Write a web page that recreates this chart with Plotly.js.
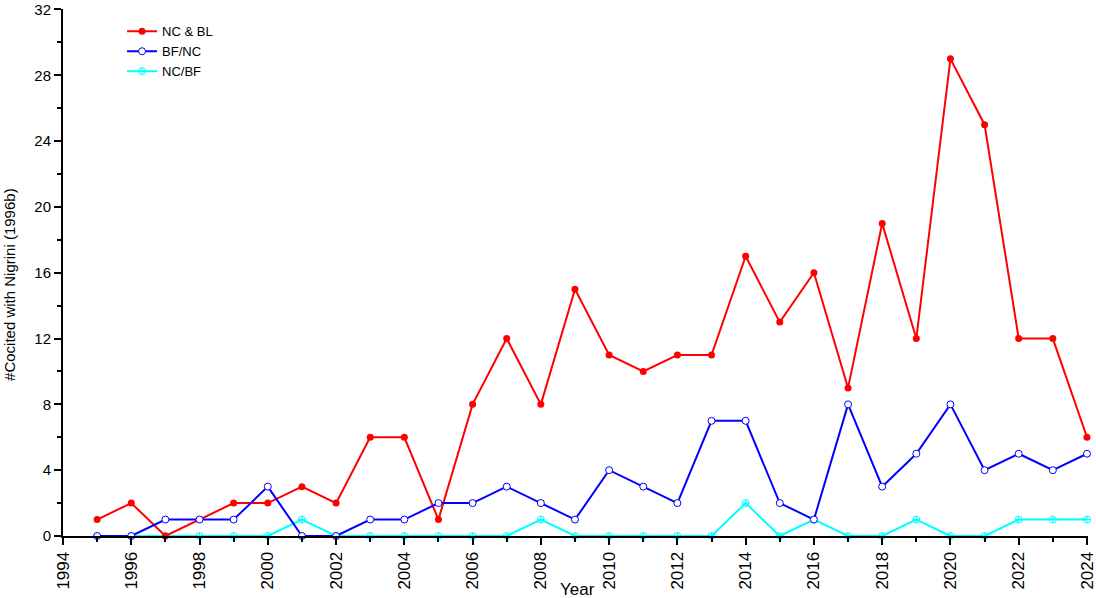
<!DOCTYPE html>
<html>
<head>
<meta charset="utf-8">
<script src="https://cdn.plot.ly/plotly-3.0.1.min.js"></script>
<style>html,body{margin:0;padding:0;background:#fff;}#chart{width:1096px;height:598px;}</style>
</head>
<body>
<div id="chart"></div>
<script>
const years = [1995,1996,1997,1998,1999,2000,2001,2002,2003,2004,2005,2006,2007,2008,2009,2010,2011,2012,2013,2014,2015,2016,2017,2018,2019,2020,2021,2022,2023,2024];
const ncBL = [1,2,0,1,2,2,3,2,6,6,1,8,12,8,15,11,10,11,11,17,13,16,9,19,12,29,25,12,12,6];
const bfNC = [0,0,1,1,1,3,0,0,1,1,2,2,3,2,1,4,3,2,7,7,2,1,8,3,5,8,4,5,4,5];
const ncBF = [0,0,0,0,0,0,1,0,0,0,0,0,0,1,0,0,0,0,0,2,0,1,0,0,1,0,0,1,1,1];
const xTickVals = [1994,1996,1998,2000,2002,2004,2006,2008,2010,2012,2014,2016,2018,2020,2022,2024];
const yTickVals = [0,4,8,12,16,20,24,28,32];

const traces = [
  {x: years, y: ncBF, name: 'NC/BF', mode: 'lines+markers', legendrank: 3, cliponaxis: false,
   line: {color: '#00FFFF', width: 2},
   marker: {symbol: 'circle-cross-open', size: 7, color: '#00FFFF', line: {width: 1}}},
  {x: years, y: ncBL, name: 'NC & BL', mode: 'lines+markers', legendrank: 1, cliponaxis: false,
   line: {color: '#FF0000', width: 2},
   marker: {symbol: 'circle', size: 7, color: '#FF0000'}},
  {x: years, y: bfNC, name: 'BF/NC', mode: 'lines+markers', legendrank: 2, cliponaxis: false,
   line: {color: '#0000FF', width: 2},
   marker: {symbol: 'circle', size: 7, color: '#FFFFFF', line: {color: '#0000FF', width: 1}}}
];

const layout = {
  width: 1096, height: 598,
  margin: {l: 63, r: 8, t: 9, b: 62},
  paper_bgcolor: '#fff', plot_bgcolor: '#fff',
  font: {family: 'Liberation Sans, Arial, sans-serif', color: '#000', size: 17},
  showlegend: true,
  legend: {x: 0.0576, y: 0.986, xanchor: 'left', yanchor: 'top', bgcolor: 'rgba(0,0,0,0)',
           font: {size: 13}, traceorder: 'normal'},
  xaxis: {range: [1994, 2024.03], tickvals: xTickVals, ticktext: xTickVals.map(String),
          tickangle: -90, ticks: 'outside', ticklen: 7, tickwidth: 2, tickcolor: '#000',
          ticklabeloverflow: 'allow',
          showline: true, linecolor: '#000', linewidth: 2, showgrid: false, zeroline: false,
          minor: {dtick: 1, tick0: 1994, ticks: 'outside', ticklen: 4, tickwidth: 2, tickcolor: '#000', showgrid: false},
          tickfont: {size: 17}},
  yaxis: {range: [0, 32.03], tickvals: yTickVals, ticks: 'outside', ticklen: 7, tickwidth: 2, tickcolor: '#000',
          ticklabeloverflow: 'allow',
          showline: true, linecolor: '#000', linewidth: 2, showgrid: false, zeroline: false,
          minor: {dtick: 2, tick0: 0, ticks: 'outside', ticklen: 4, tickwidth: 2, tickcolor: '#000', showgrid: false},
          tickfont: {size: 15}},
  annotations: [
    {text: '#Cocited with Nigrini (1996b)', xref: 'paper', yref: 'paper', x: -0.0517, y: 0.4764,
     xanchor: 'center', yanchor: 'middle', textangle: -90, showarrow: false, font: {size: 15}},
    {text: 'Year', xref: 'paper', yref: 'paper', x: 0.5015, y: -0.102,
     xanchor: 'center', yanchor: 'middle', showarrow: false, font: {size: 17}}
  ]
};

Plotly.newPlot('chart', traces, layout, {displayModeBar: false, staticPlot: true});
</script>
</body>
</html>
